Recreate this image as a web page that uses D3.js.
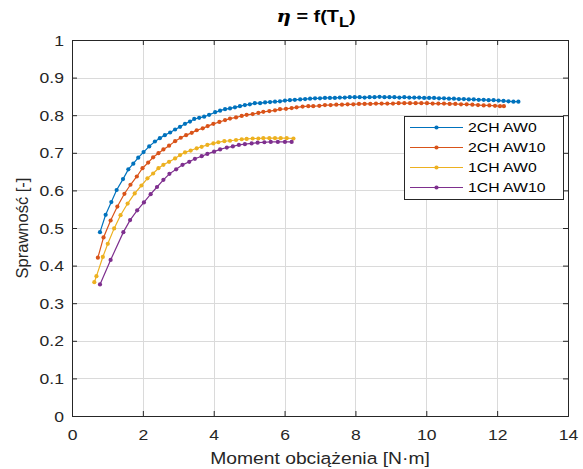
<!DOCTYPE html>
<html>
<head>
<meta charset="utf-8">
<script src="https://cdn.jsdelivr.net/npm/d3@7"></script>
<style>
  html, body { margin: 0; padding: 0; background: #fff; }
  svg { display: block; font-family: "Liberation Sans", Arial, Helvetica, sans-serif; }
</style>
</head>
<body>
<svg id="chart" width="583" height="469"></svg>
<script>
// Efficiency vs. load torque, four drive configurations
const seriesNames = ["2CH AW0", "2CH AW10", "1CH AW0", "1CH AW10"];
const seriesColors = ["#0072BD", "#D95319", "#EDB120", "#7E2F8E"];

const torque2chAw0 = [0.79,0.95,1.11,1.26,1.44,1.59,1.73,1.87,2.02,2.18,2.34,2.48,2.62,2.77,2.91,3.05,3.19,3.33,3.45,3.59,3.73,3.87,4.04,4.18,4.32,4.46,4.60,4.74,4.88,5.02,5.16,5.31,5.45,5.59,5.73,5.87,6.01,6.15,6.29,6.44,6.58,6.72,6.86,7.00,7.14,7.28,7.42,7.56,7.70,7.84,7.98,8.12,8.26,8.40,8.54,8.68,8.82,8.96,9.10,9.24,9.38,9.52,9.66,9.80,9.94,10.08,10.22,10.36,10.50,10.64,10.78,10.92,11.06,11.20,11.34,11.48,11.62,11.76,11.90,12.04,12.18,12.32,12.46,12.60];
const eff2chAw0 = [0.489,0.535,0.569,0.601,0.630,0.656,0.671,0.687,0.702,0.717,0.730,0.739,0.747,0.754,0.762,0.769,0.777,0.783,0.790,0.793,0.796,0.801,0.808,0.812,0.816,0.818,0.821,0.824,0.827,0.829,0.832,0.832,0.834,0.835,0.836,0.837,0.839,0.840,0.841,0.842,0.843,0.844,0.845,0.845,0.846,0.846,0.846,0.847,0.847,0.848,0.848,0.848,0.847,0.848,0.848,0.849,0.848,0.848,0.848,0.847,0.848,0.847,0.847,0.847,0.846,0.846,0.846,0.845,0.845,0.844,0.844,0.843,0.843,0.842,0.842,0.841,0.841,0.840,0.840,0.839,0.838,0.837,0.836,0.836];

const torque2chAw10 = [0.73,0.89,1.09,1.28,1.48,1.65,1.83,1.99,2.15,2.29,2.44,2.58,2.74,2.91,3.07,3.22,3.38,3.52,3.69,3.83,3.99,4.16,4.32,4.46,4.63,4.79,4.93,5.10,5.26,5.40,5.57,5.73,5.87,6.04,6.20,6.34,6.51,6.67,6.81,6.98,7.14,7.30,7.46,7.62,7.78,7.94,8.10,8.26,8.42,8.58,8.74,8.90,9.06,9.22,9.38,9.54,9.70,9.86,10.02,10.18,10.34,10.50,10.66,10.82,10.98,11.14,11.30,11.46,11.62,11.78,11.94,12.08,12.19];
const eff2chAw10 = [0.421,0.475,0.520,0.557,0.591,0.615,0.637,0.659,0.674,0.688,0.699,0.709,0.719,0.731,0.740,0.747,0.753,0.760,0.765,0.771,0.777,0.782,0.787,0.791,0.794,0.798,0.801,0.803,0.806,0.809,0.811,0.813,0.816,0.817,0.819,0.821,0.823,0.824,0.824,0.825,0.827,0.827,0.828,0.828,0.829,0.829,0.830,0.830,0.830,0.831,0.831,0.831,0.831,0.832,0.832,0.832,0.832,0.832,0.832,0.831,0.831,0.831,0.830,0.830,0.829,0.829,0.828,0.827,0.826,0.826,0.825,0.824,0.824];

const torque1chAw0 = [0.63,0.69,0.87,1.01,1.19,1.37,1.57,1.77,1.96,2.13,2.29,2.44,2.58,2.74,2.91,3.05,3.19,3.35,3.52,3.66,3.82,3.99,4.13,4.30,4.46,4.63,4.79,4.93,5.10,5.26,5.40,5.57,5.73,5.89,6.06,6.25];
const eff1chAw0 = [0.356,0.372,0.423,0.458,0.499,0.534,0.565,0.592,0.613,0.632,0.645,0.659,0.668,0.676,0.685,0.694,0.701,0.706,0.712,0.716,0.721,0.725,0.728,0.731,0.732,0.734,0.736,0.737,0.738,0.738,0.739,0.739,0.739,0.739,0.739,0.738];

const torque1chAw10 = [0.79,1.09,1.45,1.64,1.84,2.03,2.22,2.40,2.58,2.75,2.94,3.12,3.31,3.47,3.66,3.82,4.01,4.18,4.37,4.54,4.71,4.88,5.07,5.24,5.43,5.61,5.81,6.01,6.20];
const eff1chAw10 = [0.350,0.415,0.489,0.521,0.547,0.568,0.590,0.609,0.628,0.644,0.656,0.668,0.676,0.684,0.691,0.697,0.703,0.709,0.714,0.717,0.721,0.723,0.725,0.727,0.728,0.729,0.729,0.729,0.729];

const xTicks = [0, 2, 4, 6, 8, 10, 12, 14];
const yTicks = [0, 0.1, 0.2, 0.3, 0.4, 0.5, 0.6, 0.7, 0.8, 0.9, 1];

const series = [
  { x: torque2chAw0, y: eff2chAw0 },
  { x: torque2chAw10, y: eff2chAw10 },
  { x: torque1chAw0, y: eff1chAw0 },
  { x: torque1chAw10, y: eff1chAw10 }
].map((s, i) => ({
  name: seriesNames[i],
  color: seriesColors[i],
  points: s.x.map((v, j) => [v, s.y[j]])
}));

const svg = d3.select("#chart");
const m = { left: 72, right: 568, top: 40, bottom: 416 };
const axisColor = "#262626";
const widen = 1.17; // horizontal text stretch

// Place a text element at (px, py) and stretch it horizontally around that anchor
function placeWide(sel, px, py, extra = "") {
  sel.attr("x", 0).attr("y", 0)
    .attr("transform", `translate(${px},${py}) ${extra} scale(${widen},1)`);
  return sel;
}

const x = d3.scaleLinear().domain([0, 14]).range([m.left, m.right]);
const y = d3.scaleLinear().domain([0, 1]).range([m.bottom, m.top]);

// white plot area
svg.append("rect")
  .attr("x", m.left).attr("y", m.top)
  .attr("width", m.right - m.left).attr("height", m.bottom - m.top)
  .attr("fill", "#fff");

// grid
const grid = svg.append("g").attr("stroke", "#dadada").attr("stroke-width", 1);
grid.selectAll("line.gx").data(xTicks.slice(1, -1)).join("line")
  .attr("x1", d => Math.round(x(d)) + 0.5).attr("x2", d => Math.round(x(d)) + 0.5)
  .attr("y1", m.top).attr("y2", m.bottom);
grid.selectAll("line.gy").data(yTicks.slice(1, -1)).join("line")
  .attr("y1", d => Math.round(y(d)) + 0.5).attr("y2", d => Math.round(y(d)) + 0.5)
  .attr("x1", m.left).attr("x2", m.right);

// axes with inward ticks
const tickSize = 5;
const fmt = d3.format("");
const xAxis = svg.append("g")
  .attr("transform", `translate(0,${m.bottom})`)
  .call(d3.axisBottom(x).tickValues(xTicks).tickSize(-tickSize).tickFormat(fmt));
const xAxisTop = svg.append("g")
  .attr("transform", `translate(0,${m.top})`)
  .call(d3.axisTop(x).tickValues(xTicks).tickSize(-tickSize).tickFormat(""));
const yAxis = svg.append("g")
  .attr("transform", `translate(${m.left},0)`)
  .call(d3.axisLeft(y).tickValues(yTicks).tickSize(-tickSize).tickFormat(fmt));
const yAxisRight = svg.append("g")
  .attr("transform", `translate(${m.right},0)`)
  .call(d3.axisRight(y).tickValues(yTicks).tickSize(-tickSize).tickFormat(""));

[xAxis, xAxisTop, yAxis, yAxisRight].forEach(g => {
  g.select(".domain").attr("stroke", axisColor).attr("stroke-width", 1);
  g.selectAll(".tick line").attr("stroke", axisColor);
  g.selectAll(".tick text").attr("fill", axisColor).style("font-size", "15px")
    .style("font-family", "'Liberation Sans', Arial, sans-serif");
});
xAxis.selectAll(".tick text").each(function () {
  placeWide(d3.select(this), 0, 13).attr("dy", "0.71em");
});
yAxis.selectAll(".tick text").each(function () {
  placeWide(d3.select(this), -8, 0).attr("dy", "0.34em");
});

// curves
const line = d3.line().x(d => x(d[0])).y(d => y(d[1]));
const plot = svg.append("g");
series.forEach(s => {
  plot.append("path")
    .datum(s.points)
    .attr("fill", "none")
    .attr("stroke", s.color)
    .attr("stroke-width", 1.2)
    .attr("d", line);
  plot.selectAll(null).data(s.points).join("circle")
    .attr("cx", d => x(d[0])).attr("cy", d => y(d[1]))
    .attr("r", 2.1)
    .attr("fill", s.color);
});

// title
const title = placeWide(svg.append("text"), 316, 22)
  .attr("text-anchor", "middle")
  .attr("fill", "#000")
  .style("font-size", "17px").style("font-weight", "bold");
title.append("tspan").text("η").style("font-style", "italic").style("font-family", "'DejaVu Serif', serif");
title.append("tspan").text(" = f(T");
title.append("tspan").text("L").attr("dy", 5).style("font-size", "14px");
title.append("tspan").text(")").attr("dy", -5);

// axis labels
placeWide(svg.append("text"), (m.left + m.right) / 2, 464)
  .attr("text-anchor", "middle").attr("fill", axisColor)
  .style("font-size", "16.5px")
  .text("Moment obciążenia [N·m]");
svg.append("text")
  .attr("transform", `translate(28,${(m.top + m.bottom) / 2}) rotate(-90)`)
  .attr("text-anchor", "middle").attr("fill", axisColor)
  .style("font-size", "16.5px")
  .text("Sprawność [-]");

// legend
const lg = svg.append("g");
lg.append("rect")
  .attr("x", 404.5).attr("y", 116.5).attr("width", 159).attr("height", 83)
  .attr("fill", "#fff").attr("stroke", axisColor).attr("stroke-width", 1);
series.forEach((s, i) => {
  const yy = 127.5 + i * 20;
  lg.append("line").attr("x1", 410).attr("x2", 463).attr("y1", yy).attr("y2", yy)
    .attr("stroke", s.color).attr("stroke-width", 1.2);
  lg.append("circle").attr("cx", 436.5).attr("cy", yy).attr("r", 2.1).attr("fill", s.color);
  placeWide(lg.append("text"), 468, yy).attr("dy", "0.36em")
    .attr("fill", "#000").style("font-size", "13.5px").text(s.name);
});
</script>
</body>
</html>
